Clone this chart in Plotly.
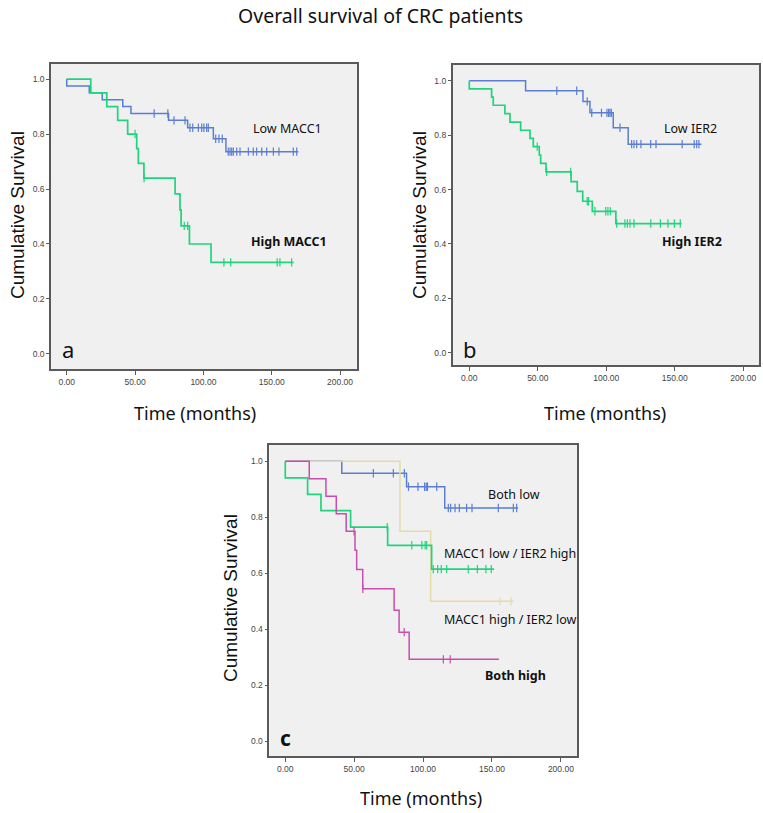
import plotly.graph_objects as go

# ---------------- data ----------------
# Panel a
low_macc1_t = [0, 16.5, 26, 41, 47, 74.5, 88.5, 107.3, 116.5]
low_macc1_s = [0.975, 0.95, 0.925, 0.90, 0.875, 0.85, 0.823, 0.783, 0.736]
low_macc1_end = 169.5
low_macc1_cens = [64, 74, 78.5, 86.6, 90.2, 92.2, 96.3, 98.8, 100.4, 102.4, 103.6, 109, 111.4, 113.8,
                  118.2, 119.5, 120.7, 121.9, 124.4, 126.8, 132.9, 136.5, 139, 142.7, 146.3, 151.2,
                  155.3, 165.8, 168.3]

high_macc1_t = [17.6, 29.3, 37.3, 44.6, 51.2, 52.4, 56.5, 79.3, 82.9, 83.7, 89.8, 105.6]
high_macc1_s = [0.95, 0.90, 0.85, 0.80, 0.747, 0.693, 0.64, 0.582, 0.524, 0.466, 0.40, 0.333]
high_macc1_end = 166
high_macc1_cens = [50.0, 56.6, 86, 88.5, 115, 120, 154, 156, 164.6]

# Panel b
low_ier2_t = [41.1, 83.0, 88.1, 105.1, 116]
low_ier2_s = [0.963, 0.924, 0.882, 0.827, 0.767]
low_ier2_end = 169.5
low_ier2_cens = [63.9, 78.4, 86.1, 89.4, 96.5, 100.5, 101.7, 102.7, 103.7, 110, 118.5, 120.2, 122.2,
                 125.3, 132.4, 136.3, 155.4, 164.2, 166, 167.6]

high_ier2_t = [0, 16.3, 17.5, 26, 29.7, 37.5, 44.3, 46.7, 51.1, 52.1, 56, 74.3, 78.8, 82.8, 89.8, 107]
high_ier2_s = [0.97, 0.94, 0.91, 0.879, 0.848, 0.818, 0.788, 0.758, 0.727, 0.696, 0.665, 0.629,
               0.593, 0.557, 0.52, 0.475]
high_ier2_end = 155
high_ier2_cens = [49.6, 56.5, 74.0, 86.1, 87.1, 91.7, 99.6, 101.2, 102.9, 107.6, 113.6, 115.4, 117.3,
                  120.2, 132.5, 139.5, 145, 149.7, 154]

# Panel c
both_low_t = [41, 88, 115.7]
both_low_s = [0.957, 0.909, 0.833]
both_low_end = 169
both_low_cens = [63.9, 78.4, 86.4, 89.4, 96.3, 101.1, 102.3, 103.2, 109.9, 118.3, 120, 123.2, 126.3,
                 131.6, 135.5, 154.6, 165.5, 167.9]

mlow_ihigh_t = [0, 16.2, 25.9, 47.4, 74.3, 106.2]
mlow_ihigh_s = [0.941, 0.882, 0.824, 0.765, 0.70, 0.615]
mlow_ihigh_end = 151.5
mlow_ihigh_cens = [74.0, 91.8, 99.1, 101.5, 102.6, 107.4, 110.6, 113.2, 117.1, 132.8, 139.4, 145.6, 149.5]

mhigh_ilow_t = [83.2, 105.5]
mhigh_ilow_s = [0.75, 0.50]
mhigh_ilow_end = 165.5
mhigh_ilow_cens = [155.8, 163.8]

both_high_t = [17.4, 29.5, 37.0, 44.2, 50.6, 51.8, 56.2, 79.0, 82.6, 89.9]
both_high_s = [0.9375, 0.875, 0.8125, 0.75, 0.682, 0.614, 0.545, 0.468, 0.390, 0.293]
both_high_end = 155
both_high_cens = [49.9, 56.3, 86.3, 114.7, 119.7]

x_tickvals = [0, 50, 100, 150, 200]
x_ticktext = ["0.00", "50.00", "100.00", "150.00", "200.00"]
y_tickvals = [0, 0.2, 0.4, 0.6, 0.8, 1.0]
y_ticktext = ["0.0", "0.2", "0.4", "0.6", "0.8", "1.0"]

BLUE = "#5A7ED2"
GREEN = "#1FD47C"
YELLOW = "#E3DCA6"
MAGENTA = "#C64FAE"

W, H = 763, 813


def km_xy(times, surv, end):
    x = [0.0]
    y = [1.0]
    for t, s in zip(times, surv):
        x.append(t)
        y.append(s)
    x.append(end)
    y.append(surv[-1])
    return x, y


def surv_at(times, surv, c):
    v = 1.0
    for t, s in zip(times, surv):
        if t <= c:
            v = s
    return v


fig = go.Figure()


def add_curve(times, surv, end, cens, color, xa, ya, width=1.5):
    x, y = km_xy(times, surv, end)
    fig.add_trace(go.Scatter(x=x, y=y, mode="lines", line=dict(color=color, width=width, shape="hv"),
                             xaxis=xa, yaxis=ya, showlegend=False, hoverinfo="skip"))
    cy = [surv_at(times, surv, c) for c in cens]
    fig.add_trace(go.Scatter(x=cens, y=cy, mode="markers",
                             marker=dict(symbol="line-ns", size=6, line=dict(color=color, width=1.2)),
                             xaxis=xa, yaxis=ya, showlegend=False, hoverinfo="skip"))


add_curve(low_macc1_t, low_macc1_s, low_macc1_end, low_macc1_cens, BLUE, "x", "y")
add_curve(high_macc1_t, high_macc1_s, high_macc1_end, high_macc1_cens, GREEN, "x", "y", 1.7)
add_curve(low_ier2_t, low_ier2_s, low_ier2_end, low_ier2_cens, BLUE, "x2", "y2")
add_curve(high_ier2_t, high_ier2_s, high_ier2_end, high_ier2_cens, GREEN, "x2", "y2", 1.7)
add_curve(both_low_t, both_low_s, both_low_end, both_low_cens, BLUE, "x3", "y3")
add_curve(mhigh_ilow_t, mhigh_ilow_s, mhigh_ilow_end, mhigh_ilow_cens, YELLOW, "x3", "y3")
add_curve(mlow_ihigh_t, mlow_ihigh_s, mlow_ihigh_end, mlow_ihigh_cens, GREEN, "x3", "y3", 1.7)
add_curve(both_high_t, both_high_s, both_high_end, both_high_cens, MAGENTA, "x3", "y3")


def px_x(p):
    return p / W


def px_y(p):
    return 1 - p / H


def xaxis(dom, rng):
    return dict(domain=dom, range=rng, tickvals=x_tickvals, ticktext=x_ticktext,
                showline=True, mirror=True, linecolor="#5a5a5a", linewidth=1.6,
                ticks="outside", ticklen=4, tickcolor="#5a5a5a", tickwidth=1,
                showgrid=False, zeroline=False,
                tickfont=dict(family="Liberation Sans", size=8.5, color="#444"))


def yaxis(dom, rng, anchor):
    return dict(domain=dom, range=rng, tickvals=y_tickvals, ticktext=y_ticktext, anchor=anchor,
                showline=True, mirror=True, linecolor="#5a5a5a", linewidth=1.6,
                ticks="outside", ticklen=3, tickcolor="#5a5a5a", tickwidth=1,
                showgrid=False, zeroline=False,
                tickfont=dict(family="Liberation Sans", size=8.5, color="#444"))


xa = xaxis([px_x(51), px_x(357)], [-11.5, 212.4]); xa["anchor"] = "y"
xb = xaxis([px_x(452.7), px_x(759.3)], [-12.1, 211.7]); xb["anchor"] = "y2"
xc = xaxis([px_x(269.3), px_x(577)], [-11.6, 211.7]); xc["anchor"] = "y3"
ya = yaxis([px_y(369), px_y(64)], [-0.055, 1.055], "x")
yb = yaxis([px_y(365), px_y(64.7)], [-0.045, 1.059], "x2")
yc = yaxis([px_y(756), px_y(445)], [-0.052, 1.058], "x3")

ann = []


def text(s, x, y, size, family="Noto Sans", xanchor="center", angle=0, color="#111"):
    ann.append(dict(text=s, x=px_x(x), y=px_y(y), xref="paper", yref="paper", showarrow=False,
                    xanchor=xanchor, yanchor="middle", textangle=angle,
                    font=dict(family=family, size=size, color=color)))


text("Overall survival of CRC patients", 380, 16, 19.5)
for (x, y) in [(18, 215), (420, 215), (230, 598)]:
    text("Cumulative Survival", x, y, 19, family="Liberation Sans", angle=-90)
for (x, y) in [(195, 413), (605, 413), (421, 798)]:
    text("Time (months)", x, y, 18)

text("Low MACC1", 251, 129, 12.5, xanchor="left")
text("<b>High MACC1</b>", 249, 242, 12.5, xanchor="left")
text("Low IER2", 662, 129, 12.5, xanchor="left")
text("<b>High IER2</b>", 660, 242, 12.5, xanchor="left")
text("Both low", 486, 494, 12.5, xanchor="left")
text("MACC1 low / IER2 high", 442, 553, 12.5, xanchor="left")
text("MACC1 high / IER2 low", 442, 619, 12.5, xanchor="left")
text("<b>Both high</b>", 483, 675, 12.5, xanchor="left")
text("a", 60, 349, 22, xanchor="left")
text("b", 461, 349, 22, xanchor="left")
text("<b>c</b>", 278, 738, 21, xanchor="left")

fig.update_layout(width=W, height=H, margin=dict(l=0, r=0, t=0, b=0),
                  paper_bgcolor="white", plot_bgcolor="#F0F0F0",
                  xaxis=xa, yaxis=ya, xaxis2=xb, yaxis2=yb, xaxis3=xc, yaxis3=yc,
                  annotations=ann, showlegend=False)

fig.write_html("out.html")
